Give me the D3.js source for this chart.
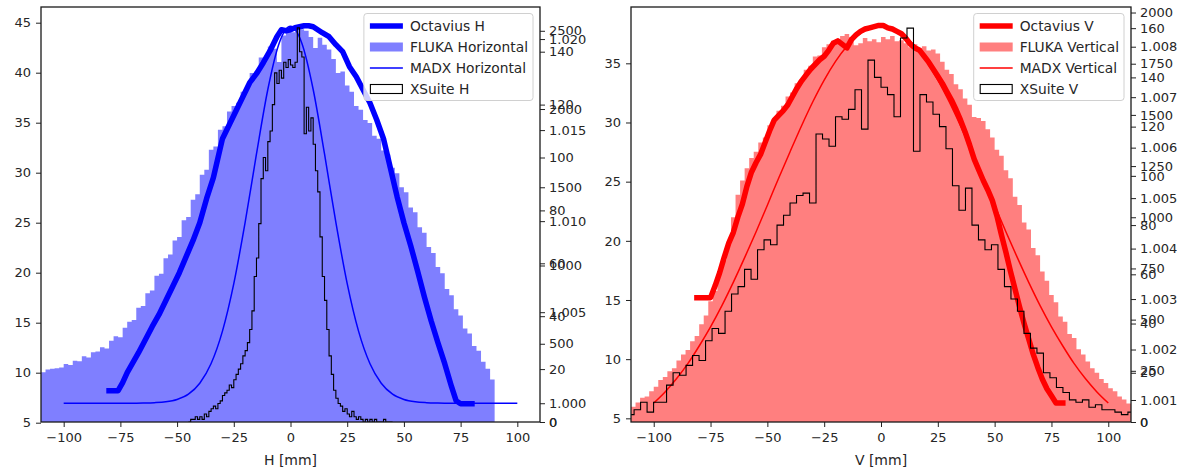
<!DOCTYPE html>
<html>
<head>
<meta charset="utf-8">
<script src="https://cdn.jsdelivr.net/npm/d3@7"></script>
<style>
  body { margin: 0; background: #fff; }
  svg text { font-family: "DejaVu Sans", sans-serif; }
</style>
</head>
<body>
<svg id="chart" width="1177" height="469"></svg>
<script>
// ---------------- Horizontal plane ----------------
// Octavius H profile (mm, signal)
const hOctX = [-80,-76,-74,-72,-70,-67,-64,-61,-58,-55,-52,-49,-46,-43,-40,-37,-34,-30,-27,-24,-21,-18,-15,-12,-9,-6,-4,-2,0,2,4,6,8,10,12,14,17,20,23,26,29,32,35,38,41,44,47,50,53,56,59,62,65,68,71,73,75,80];
const hOctY = [8.2,8.2,9.0,10.0,10.8,12.0,13.3,14.6,15.8,17.2,18.6,20.0,21.6,23.2,25.0,27.4,29.5,33.4,34.8,36.2,37.6,39.0,39.9,41.0,42.2,43.6,44.3,44.2,44.3,44.5,44.6,44.7,44.7,44.6,44.3,44.0,43.6,42.8,42.1,40.6,39.6,38.3,37.0,35.3,33.4,30.5,27.6,25.0,22.7,20.2,17.6,15.2,13.0,10.9,8.6,7.2,6.9,6.9];

// FLUKA horizontal histogram: 2 mm bins starting at -110 mm
const hFlukaStart = -110;
const hFlukaBin = 2;
const hFluka = [318,335,340,344,349,371,365,392,388,420,412,445,451,478,470,520,548,541,603,640,
  652,730,741,823,841,935,948,1047,1070,1160,1182,1290,1310,1420,1455,1580,1612,1740,1760,1868,
  1890,1985,2020,2040,2110,2135,2230,2240,2330,2318,2400,2385,2300,2470,2520,2490,2530,2510,2500,2460,
  2390,2455,2410,2380,2320,2230,2240,2150,2110,2020,1995,1930,1910,1830,1810,1735,1710,1625,1590,1500,
  1468,1370,1340,1245,1210,1118,1080,990,950,850,810,720,680,598,565,485,455,385,340,272];

// MADX horizontal
const hMadxX = [-100,-90,-80,-70,-65,-60,-55,-50,-45,-40,-35,-30,-25,-20,-15,-10,-5,0,5,10,15,20,25,30,35,40,45,50,55,60,65,70,80,90,100];
const hMadxY = [1.0000,1.0000,1.0000,1.0000,1.00001,1.00003,1.00008,1.00021,1.00050,1.00110,1.00218,1.00396,1.00657,1.00993,1.01369,1.01723,1.01977,1.0207,
  1.01977,1.01723,1.01369,1.00993,1.00657,1.00396,1.00218,1.00110,1.00050,1.00021,1.00008,1.00003,1.00001,1.0000,1.0000,1.0000,1.0000];

// XSuite H histogram: 1 mm bins starting at -45 mm
const hXsStart = -45;
const hXsBin = 1;
const hXs = [0,1,1,2,1,2,1,3,2,4, 5,6,5,7,8,10,11,12,14,13, 16,18,20,22,25,27,30,35,42,55,
  62,75,92,100,95,106,110,120,132,128, 133,130,136,134,137,135,134,136,149,140,
  138,109,119,110,115,105,95,87,70,55, 46,35,25,18,12,9,7,6,4,5,
  3,2,4,2,1,2,1,0,1,0, 1,0,1,0,0,0,1,0,0,0];

// ---------------- Vertical plane ----------------
const vOctX = [-81,-75,-73,-71,-69,-67,-65,-63,-61,-59,-57,-55,-53,-51,-49,-47,-45,-43,-41,-39,-37,-35,-33,-31,-29,-27,-25,-23,-21,-19,-17,-15,-13,-11,-9,-7,-5,-3,-1,1,3,5,7,9,11,13,15,17,19,21,23,25,27,29,31,33,35,37,39,41,43,45,47,49,51,53,55,57,59,61,63,65,67,69,71,73,75,77,80];
const vOctY = [15.2,15.2,16.2,17.3,18.6,19.8,20.7,22.0,23.1,24.6,25.8,26.6,27.3,28.3,29.3,30.2,30.6,31.0,31.5,32.2,32.9,33.5,34.0,34.5,34.9,35.3,35.6,36.1,36.7,36.9,36.6,36.3,37.0,37.4,37.7,37.9,38.0,38.1,38.2,38.2,38.0,37.9,37.7,37.5,37.1,36.6,36.3,36.1,35.6,35.1,34.5,33.9,33.3,32.6,31.9,31.1,30.2,29.2,28.1,26.9,26.0,25.1,24.3,23.4,22.1,20.5,19.0,17.4,15.9,14.4,13.0,11.7,10.4,9.3,8.3,7.5,6.9,6.3,6.3];

// FLUKA vertical histogram: 2 mm bins starting at -110 mm
const vFlukaStart = -110;
const vFlukaBin = 2;
const vFluka = [75,95,118,125,150,172,205,220,248,262,300,330,352,395,420,478,520,590,640,735,
  790,870,1000,1110,1180,1240,1290,1320,1365,1390,1450,1470,1520,1545,1590,1610,1655,1670,1720,1740,
  1785,1790,1830,1845,1862,1870,1885,1895,1880,1840,1850,1875,1860,1870,1855,1880,1870,1885,1860,1865,
  1850,1830,1845,1825,1835,1815,1820,1800,1760,1720,1700,1650,1625,1580,1550,1490,1485,1470,1430,1390,
  1330,1300,1230,1190,1100,1060,975,940,850,815,735,690,620,585,515,490,430,410,355,330,
  295,262,240,210,190,165,150,125,110,90];

// MADX vertical
const vMadxX = [-100,-95,-90,-85,-80,-75,-70,-65,-60,-55,-50,-45,-40,-35,-30,-25,-20,-15,-10,-5,0,5,10,15,20,25,30,35,40,45,50,55,60,65,70,75,80,85,90,95,100];
const vMadxY = [1.00094,1.00116,1.00142,1.00172,1.00207,1.00245,1.00287,1.00333,1.00382,1.00433,1.00486,1.00540,1.00592,1.00643,1.00691,1.00734,1.00771,1.00801,1.00823,1.00837,1.00841,
  1.00837,1.00823,1.00801,1.00771,1.00734,1.00691,1.00643,1.00592,1.00540,1.00486,1.00433,1.00382,1.00333,1.00287,1.00245,1.00207,1.00172,1.00142,1.00116,1.00094];

// XSuite V histogram: 78 bins over [-111.5, 111.5]
const vXsStart = -111.5;
const vXsBin = 223 / 78;
const vXs = [3,5,8,4,8,8,15,20,19,23, 27,25,33,38,36,45,52,55,62,58, 70,74,72,80,84,
  89,92,93,89,117,115,112,124,123,127,135,119,147,140,136,133,124,156,160,110,133,130,125,120,111,96,86,95,
  80,74,70,72,62,55,50,45,36,30,28,20,18,14,12,9,8,9,6,7,5,5,4,3,4,3];

// Tick values
const xTicks = [-100,-75,-50,-25,0,25,50,75,100];
const hMainTicks = [5,10,15,20,25,30,35,40,45];
const hFlukaTicks = [0,500,1000,1500,2000,2500];
const hMadxTicks = [1.000,1.005,1.010,1.015,1.020];
const hXsTicks = [0,20,40,60,80,100,120,140];
const vMainTicks = [5,10,15,20,25,30,35];
const vFlukaTicks = [0,250,500,750,1000,1250,1500,1750,2000];
const vMadxTicks = [1.001,1.002,1.003,1.004,1.005,1.006,1.007,1.008];
const vXsTicks = [0,20,40,60,80,100,120,140,160];

const TOP = 7, BOTTOM = 422;
const svg = d3.select("#chart");

function edges(start, bin, n) {
  return d3.range(n + 1).map(i => start + i * bin);
}

function drawPanel(p) {
  const x = d3.scaleLinear().domain([-110, 110]).range([p.left, p.right]);
  const yMain = d3.scaleLinear().domain(p.mainDomain).range([BOTTOM, TOP]);
  const yFluka = d3.scaleLinear().domain(p.flukaDomain).range([BOTTOM, TOP]);
  const yMadx = d3.scaleLinear().domain(p.madxDomain).range([BOTTOM, TOP]);
  const yXs = d3.scaleLinear().domain(p.xsDomain).range([BOTTOM, TOP]);

  const clipId = "clip-" + p.id;
  svg.append("clipPath").attr("id", clipId).append("rect")
    .attr("x", p.left).attr("y", TOP).attr("width", p.right - p.left).attr("height", BOTTOM - TOP);
  const plot = svg.append("g").attr("clip-path", `url(#${clipId})`);

  // Octavius thick line
  plot.append("path")
    .datum(d3.zip(p.octX, p.octY))
    .attr("fill", "none").attr("stroke", p.color).attr("stroke-width", 5.5)
    .attr("stroke-linejoin", "round").attr("stroke-linecap", "square")
    .attr("d", d3.line().x(d => x(d[0])).y(d => yMain(d[1])));

  // FLUKA histogram (half-transparent filled bars)
  const fe = edges(p.flukaStart, p.flukaBin, p.fluka.length);
  const fPts = p.fluka.map((c, i) => [fe[i], c]).concat([[fe[fe.length - 1], p.fluka[p.fluka.length - 1]]]);
  plot.append("path")
    .datum(fPts)
    .attr("fill", p.color).attr("fill-opacity", 0.5).attr("stroke", "none")
    .attr("d", d3.area().curve(d3.curveStepAfter).x(d => x(d[0])).y0(BOTTOM).y1(d => yFluka(d[1])));

  // MADX thin line
  plot.append("path")
    .datum(d3.zip(p.madxX, p.madxY))
    .attr("fill", "none").attr("stroke", p.color).attr("stroke-width", 1.5)
    .attr("d", d3.line().curve(d3.curveMonotoneX).x(d => x(d[0])).y(d => yMadx(d[1])));

  // XSuite step histogram
  const xe = edges(p.xsStart, p.xsBin, p.xs.length);
  const sPts = [[xe[0], 0]].concat(p.xs.map((c, i) => [xe[i], c]), [[xe[xe.length - 1], 0]]);
  plot.append("path")
    .datum(sPts)
    .attr("fill", "none").attr("stroke", "#000").attr("stroke-width", 1.1)
    .attr("d", d3.line().curve(d3.curveStepAfter).x(d => x(d[0])).y(d => yXs(d[1])));

  // Axes
  const styleAxis = g => {
    g.select(".domain").remove();
    g.selectAll(".tick line").attr("stroke", "#222").attr("stroke-width", 1);
    g.selectAll(".tick text").attr("fill", "#262626").style("font-size", "13px")
      .style("font-family", "'DejaVu Sans', sans-serif");
  };
  svg.append("g").attr("transform", `translate(0,${BOTTOM})`)
    .call(d3.axisBottom(x).tickValues(xTicks).tickSize(5).tickPadding(6).tickFormat(d3.format("d")))
    .call(styleAxis);
  svg.append("g").attr("transform", `translate(${p.left},0)`)
    .call(d3.axisLeft(yMain).tickValues(p.mainTicks).tickSize(5).tickPadding(5).tickFormat(d3.format("d")))
    .call(styleAxis);
  [[yFluka, p.flukaTicks, d3.format("d")], [yMadx, p.madxTicks, d3.format(".3f")], [yXs, p.xsTicks, d3.format("d")]]
    .forEach(([sc, tv, fmt]) => {
      svg.append("g").attr("transform", `translate(${p.right},0)`)
        .call(d3.axisRight(sc).tickValues(tv).tickSize(5).tickPadding(4).tickFormat(fmt))
        .call(styleAxis);
    });

  // Frame
  svg.append("rect").attr("x", p.left).attr("y", TOP)
    .attr("width", p.right - p.left).attr("height", BOTTOM - TOP)
    .attr("fill", "none").attr("stroke", "#1a1a1a").attr("stroke-width", 1.3);

  // Axis label
  svg.append("text").attr("x", (p.left + p.right) / 2).attr("y", 465)
    .attr("text-anchor", "middle").attr("fill", "#262626").style("font-size", "14px")
    .text(p.xLabel);

  // Legend (upper right)
  const lg = svg.append("g");
  const box = lg.append("rect").attr("rx", 3).attr("ry", 3)
    .attr("fill", "#fff").attr("fill-opacity", 0.8).attr("stroke", "#d0d0d0").attr("stroke-width", 1);
  const rowsY = [26, 47, 68, 89];
  const hx0 = 0, hx1 = 33, tx = 40;
  const items = lg.append("g");
  const texts = [];
  p.legend.forEach((lab, i) => {
    const yy = rowsY[i];
    if (i === 0) items.append("line").attr("x1", hx0).attr("x2", hx1).attr("y1", yy).attr("y2", yy)
      .attr("stroke", p.color).attr("stroke-width", 5.5);
    if (i === 1) items.append("rect").attr("x", hx0).attr("y", yy - 4.5).attr("width", hx1 - hx0).attr("height", 9)
      .attr("fill", p.color).attr("fill-opacity", 0.5);
    if (i === 2) items.append("line").attr("x1", hx0).attr("x2", hx1).attr("y1", yy).attr("y2", yy)
      .attr("stroke", p.color).attr("stroke-width", 1.5);
    if (i === 3) items.append("rect").attr("x", hx0 + 0.5).attr("y", yy - 4.5).attr("width", hx1 - hx0 - 1).attr("height", 9)
      .attr("fill", "none").attr("stroke", "#000").attr("stroke-width", 1.1);
    texts.push(items.append("text").attr("x", tx).attr("y", yy).attr("dy", "0.36em")
      .attr("fill", "#262626").style("font-size", "13.8px").text(lab));
  });
  const tw = d3.max(texts, t => t.node().getComputedTextLength());
  const boxW = 6 + tx + tw + 5;
  const boxRight = p.right - 7;
  const boxLeft = boxRight - boxW;
  items.attr("transform", `translate(${boxLeft + 6},0)`);
  box.attr("x", boxLeft).attr("y", 13.5).attr("width", boxW).attr("height", 87);
}

drawPanel({
  id: "h", left: 41, right: 540, color: "#0000ff",
  mainDomain: [5.07, 46.57], flukaDomain: [0, 2652], madxDomain: [0.99897, 1.02176], xsDomain: [0, 156.9],
  octX: hOctX, octY: hOctY,
  flukaStart: hFlukaStart, flukaBin: hFlukaBin, fluka: hFluka,
  madxX: hMadxX, madxY: hMadxY,
  xsStart: hXsStart, xsBin: hXsBin, xs: hXs,
  mainTicks: hMainTicks, flukaTicks: hFlukaTicks, madxTicks: hMadxTicks, xsTicks: hXsTicks,
  xLabel: "H [mm]",
  legend: ["Octavius H", "FLUKA Horizontal", "MADX Horizontal", "XSuite H"]
});

drawPanel({
  id: "v", left: 631, right: 1131, color: "#ff0000",
  mainDomain: [4.69, 39.76], flukaDomain: [0, 2027], madxDomain: [1.000564, 1.008787], xsDomain: [0, 168.6],
  octX: vOctX, octY: vOctY,
  flukaStart: vFlukaStart, flukaBin: vFlukaBin, fluka: vFluka,
  madxX: vMadxX, madxY: vMadxY,
  xsStart: vXsStart, xsBin: vXsBin, xs: vXs,
  mainTicks: vMainTicks, flukaTicks: vFlukaTicks, madxTicks: vMadxTicks, xsTicks: vXsTicks,
  xLabel: "V [mm]",
  legend: ["Octavius V", "FLUKA Vertical", "MADX Vertical", "XSuite V"]
});
</script>
</body>
</html>
